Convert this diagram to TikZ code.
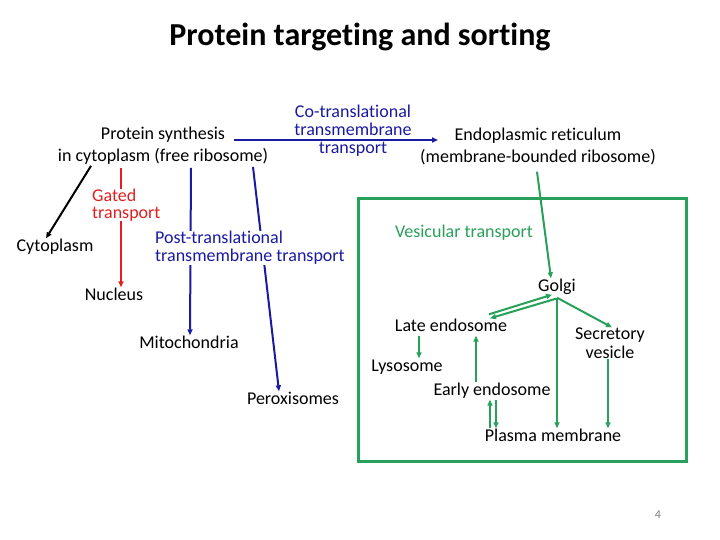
\documentclass[tikz,border=0pt]{standalone}
\usepackage{fontspec}
\setmainfont{Carlito}[Ligatures=CommonOff]
\usepackage{xcolor}
\usetikzlibrary{arrows.meta, calc}

\definecolor{navyblue}{RGB}{26,26,160}
\definecolor{gatedred}{RGB}{224,32,32}
\definecolor{vesgreen}{RGB}{40,160,90}

\begin{document}
\begin{tikzpicture}[
    x=1pt, y=-1pt,
    mlbl/.style={inner sep=0pt, align=center, font=\fontsize{18}{22}\selectfont},
    lbl/.style={mlbl, text height=13pt, text depth=4pt},
    conn/.style={line width=2pt, -{Triangle[length=6pt,width=5pt]}},
    >=Stealth
]
\useasboundingbox (0,0) rectangle (720,540);
%% Title
\node[inner sep=0pt, font=\fontsize{32}{36}\selectfont\bfseries] (title) at (360,37) {Protein targeting and sorting};
%% Starting points
\node[mlbl] (synth) at (163,146) {Protein synthesis\\in cytoplasm (free ribosome)};
\node[mlbl] (er) at (538,146) {Endoplasmic reticulum\\(membrane-bounded ribosome)};
\node[mlbl, text=navyblue, font=\fontsize{18}{18}\selectfont] (cotrans) at (353,131) {Co-translational\\transmembrane\\transport};
\draw[conn, navyblue] ($(synth.center)+(71,-6)$) -- ($(er.west)+(18,-6)$);
%% Cytosolic destinations
\node[lbl] (cyto) at (55,247) {Cytoplasm};
\node[lbl] (nucleus) at (114,296) {Nucleus};
\node[lbl] (mito) at (189,344) {Mitochondria};
\node[lbl] (perox) at (293,400) {Peroxisomes};
\draw[conn, black] ([xshift=-72pt, yshift=-1pt]synth.south) -- ([xshift=-9pt]cyto.north);
\draw[conn, gatedred] ([xshift=-42pt, yshift=-3pt]synth.south) -- ([xshift=7pt]nucleus.north);
\draw[conn, navyblue] ([xshift=28pt, yshift=-3pt]synth.south) -- ([xshift=1pt]mito.north);
\draw[conn, navyblue] ([xshift=90pt, yshift=-2pt]synth.south) -- ([xshift=-14pt]perox.north);
\node[mlbl, anchor=west, align=left, fill=white, text=gatedred, font=\fontsize{18}{17}\selectfont] (gated) at (92,205) {Gated\\transport};
\node[mlbl, anchor=west, align=left, fill=white, text=navyblue, font=\fontsize{18}{18}\selectfont] (posttrans) at (155,248) {Post-translational\\transmembrane transport};
%% Vesicular transport box
\draw[vesgreen, line width=3pt] (358,199) rectangle (686,461);
\node[lbl, text=vesgreen] (vesic) at (464,233) {Vesicular transport};
\node[lbl] (golgi) at (557,287) {Golgi};
\node[lbl] (late) at (451,327) {Late endosome};
\node[mlbl, font=\fontsize{18}{19}\selectfont] (secr) at (610,343) {Secretory\\vesicle};
\node[lbl] (lyso) at (407,367) {Lysosome};
\node[lbl] (early) at (492,391) {Early endosome};
\node[lbl] (plasma) at (553,437) {Plasma membrane};
\draw[conn, vesgreen] ([xshift=-1pt, yshift=-7pt]er.south) -- ([xshift=-6pt]golgi.north);
\draw[conn, vesgreen] ([xshift=38pt, yshift=4pt]late.north) -- ([xshift=-5pt, yshift=1pt]golgi.south);
\draw[conn, vesgreen] ([xshift=-1pt, yshift=-3pt]golgi.south) -- ([xshift=39pt]late.north);
\draw[conn, vesgreen] ([yshift=-2pt]golgi.south) -- ([xshift=2pt]secr.north);
\draw[conn, vesgreen] ([yshift=-2pt]golgi.south) -- (golgi.south |- plasma.north);
\draw[conn, vesgreen] ([xshift=-2pt]secr.south) -- ([xshift=-2pt]secr.south |- plasma.north);
\draw[conn, vesgreen] ([xshift=-32pt]late.south) -- ([xshift=12pt]lyso.north);
\draw[conn, vesgreen] ([xshift=-16pt]early.north) -- ([xshift=25pt]late.south);
\draw[conn, vesgreen] ([xshift=-63pt]plasma.north) -- ([xshift=-2pt]early.south);
\draw[conn, vesgreen] ([xshift=4pt]early.south) -- ([xshift=-57pt]plasma.north);
%% Page number
\node[inner sep=0pt, text=gray, font=\fontsize{12}{14}\selectfont] (pagenum) at (658,515) {4};
\end{tikzpicture}
\end{document}
